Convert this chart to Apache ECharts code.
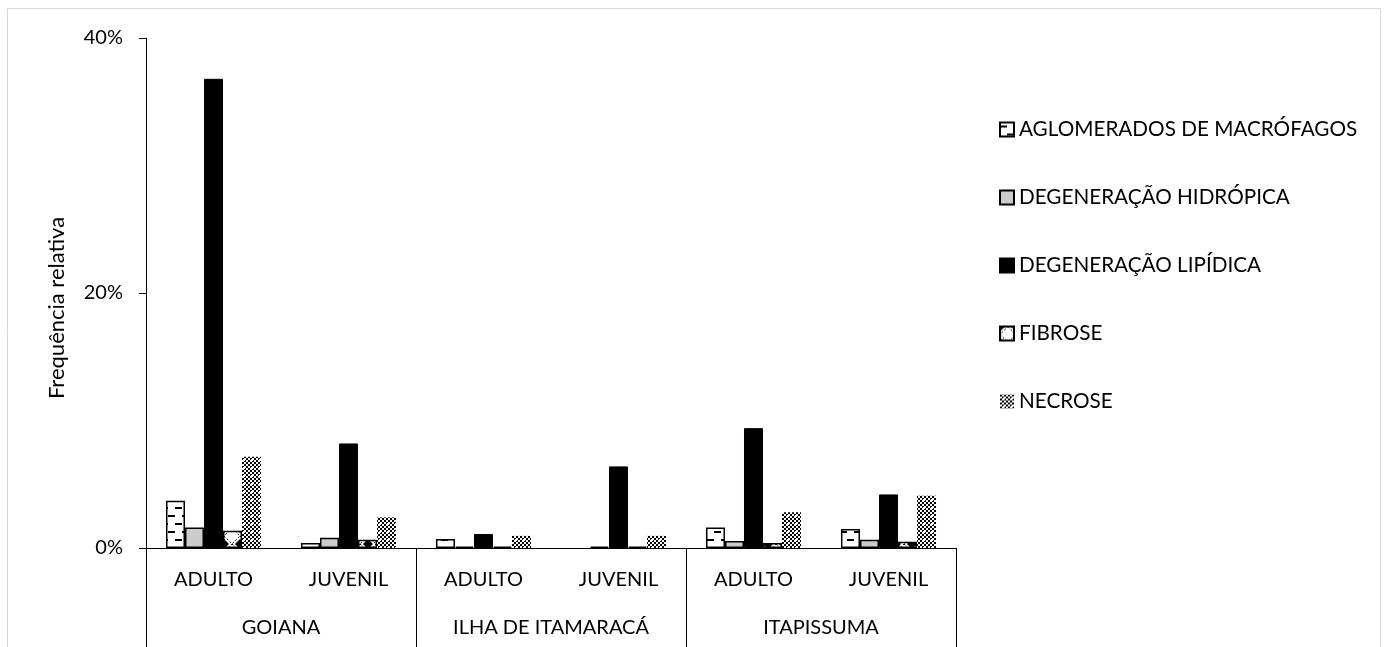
<!DOCTYPE html>
<html>
<head>
<meta charset="utf-8">
<script src="https://cdn.jsdelivr.net/npm/echarts@6/dist/echarts.min.js"></script>
<style>
  html, body { margin: 0; padding: 0; background: #ffffff; }
  #chart { width: 1389px; height: 647px; }
</style>
</head>
<body>
<div id="chart"></div>
<script>
// Age classes (inner axis row) and sites (outer axis row)
const categories = ['ADULTO', 'JUVENIL', 'ADULTO', 'JUVENIL', 'ADULTO', 'JUVENIL'];
const sites = ['GOIANA', 'ILHA DE ITAMARACÁ', 'ITAPISSUMA'];
const yTicks = [0, 20, 40];

// Relative frequency (%) of each lesion
const aglomerados = [3.7, 0.4, 0.7, 0, 1.6, 1.5];
const hidropica   = [1.6, 0.8, 0.1, 0.1, 0.55, 0.65];
const lipidica    = [36.8, 8.2, 1.1, 6.4, 9.4, 4.2];
const fibrose     = [1.35, 0.65, 0.1, 0.1, 0.4, 0.5];
const necrose     = [7.15, 2.4, 0.95, 0.95, 2.8, 4.1];

const seriesNames = [
  'AGLOMERADOS DE MACRÓFAGOS',
  'DEGENERAÇÃO HIDRÓPICA',
  'DEGENERAÇÃO LIPÍDICA',
  'FIBROSE',
  'NECROSE'
];

const FONT = 'Lato';

// ---- fill patterns ----
function tile(w, h, draw) {
  const c = document.createElement('canvas');
  c.width = w; c.height = h;
  const ctx = c.getContext('2d');
  ctx.fillStyle = '#ffffff';
  ctx.fillRect(0, 0, w, h);
  draw(ctx);
  return { image: c, repeat: 'repeat' };
}

// short staggered horizontal dashes
const dashPattern = tile(14, 16, ctx => {
  ctx.fillStyle = '#000000';
  ctx.fillRect(0, 3, 7, 2);
  ctx.fillRect(7, 11, 7, 2);
});

// white diamonds with dark corners
const diamondPattern = tile(16, 16, ctx => {
  ctx.fillStyle = '#000000';
  const t = 5;
  ctx.beginPath(); ctx.moveTo(0, 0); ctx.lineTo(t, 0); ctx.lineTo(0, t); ctx.closePath(); ctx.fill();
  ctx.beginPath(); ctx.moveTo(16, 0); ctx.lineTo(16 - t, 0); ctx.lineTo(16, t); ctx.closePath(); ctx.fill();
  ctx.beginPath(); ctx.moveTo(0, 16); ctx.lineTo(t, 16); ctx.lineTo(0, 16 - t); ctx.closePath(); ctx.fill();
  ctx.beginPath(); ctx.moveTo(16, 16); ctx.lineTo(16 - t, 16); ctx.lineTo(16, 16 - t); ctx.closePath(); ctx.fill();
  ctx.strokeStyle = '#000000';
  ctx.lineWidth = 1;
  ctx.setLineDash([2, 2]);
  ctx.beginPath();
  ctx.moveTo(8, 0); ctx.lineTo(16, 8); ctx.lineTo(8, 16); ctx.lineTo(0, 8); ctx.closePath();
  ctx.stroke();
});

// fine checkerboard
const checkerPattern = tile(8, 8, ctx => {
  ctx.fillStyle = '#000000';
  for (let y = 0; y < 8; y += 2) {
    for (let x = 0; x < 8; x += 2) {
      if (((x + y) / 2) % 2 === 0) ctx.fillRect(x, y, 2, 2);
    }
  }
  ctx.fillStyle = '#ffffff';
  ctx.fillRect(3, 3, 2, 2);
});

const styles = [
  { color: dashPattern, borderColor: '#000000', borderWidth: 1.5 },
  { color: '#cccccc', borderColor: '#000000', borderWidth: 1.5 },
  { color: '#000000', borderColor: '#000000', borderWidth: 1 },
  { color: diamondPattern, borderColor: '#000000', borderWidth: 1.5 },
  { color: checkerPattern, borderWidth: 0 }
];
const values = [aglomerados, hidropica, lipidica, fibrose, necrose];

// zero-height bars get no outline so nothing is drawn for them
function toData(arr) {
  return arr.map(v => (v === 0 ? { value: v, itemStyle: { borderWidth: 0 } } : v));
}

const chart = echarts.init(document.getElementById('chart'), null, { renderer: 'canvas' });

chart.setOption({
  animation: false,
  backgroundColor: '#ffffff',
  textStyle: { fontFamily: FONT },
  grid: { left: 146, right: 433, top: 38, bottom: 99, containLabel: false },
  legend: {
    orient: 'vertical',
    left: 994,
    top: 114,
    itemWidth: 14,
    itemHeight: 14,
    itemGap: 47,
    icon: 'rect',
    textStyle: { fontFamily: FONT, fontSize: 20.7, color: '#000000' },
    data: seriesNames
  },
  xAxis: [
    {
      type: 'category',
      data: categories,
      position: 'bottom',
      axisLine: { show: true, lineStyle: { color: '#000000', width: 1 } },
      axisTick: { show: false },
      axisLabel: { margin: 22, fontFamily: FONT, fontSize: 20, color: '#000000' },
      splitLine: { show: false }
    },
    {
      type: 'category',
      data: sites,
      position: 'bottom',
      axisLine: { show: false },
      axisTick: { show: true, length: 100, lineStyle: { color: '#000000', width: 1 } },
      axisLabel: { margin: 70, fontFamily: FONT, fontSize: 20, color: '#000000' },
      splitLine: { show: false }
    }
  ],
  yAxis: {
    type: 'value',
    min: yTicks[0],
    max: yTicks[yTicks.length - 1],
    interval: 20,
    axisLine: { show: true, lineStyle: { color: '#000000', width: 1 } },
    axisTick: { show: true, length: 7, lineStyle: { color: '#000000' } },
    axisLabel: { margin: 23, formatter: '{value}%', fontFamily: FONT, fontSize: 20, color: '#000000' },
    splitLine: { show: false }
  },
  graphic: [
    {
      type: 'rect',
      shape: { x: 7.5, y: 8.5, width: 1373, height: 660 },
      style: { fill: 'none', stroke: '#d9d9d9', lineWidth: 1 },
      silent: true,
      z: -10
    },
    {
      type: 'text',
      x: 57,
      y: 308,
      rotation: Math.PI / 2,
      style: {
        text: 'Frequência relativa',
        fontFamily: FONT,
        fontSize: 22,
        fill: '#000000',
        align: 'center',
        verticalAlign: 'middle'
      }
    }
  ],
  series: seriesNames.map((name, i) => ({
    name,
    type: 'bar',
    xAxisIndex: 0,
    data: toData(values[i]),
    barGap: '0%',
    barCategoryGap: '29.6%',
    itemStyle: styles[i]
  }))
});
</script>
</body>
</html>
